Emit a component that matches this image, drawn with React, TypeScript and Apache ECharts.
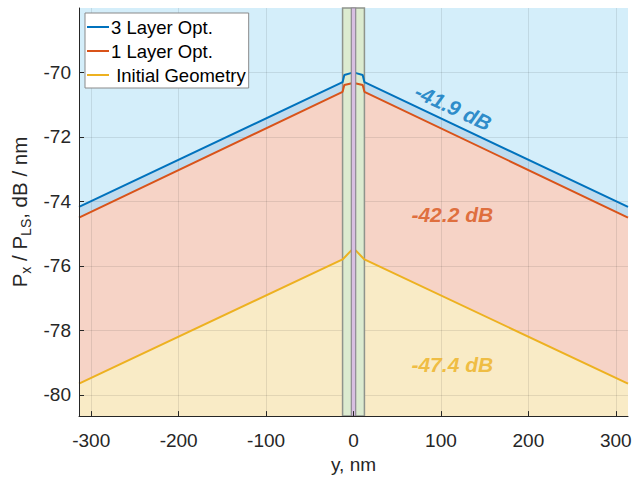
import React, { useEffect, useRef } from "react";
import * as echarts from "echarts";

// ---- data ----
const xTicks = [-300, -200, -100, 0, 100, 200, 300];
const yTicks = [-80, -78, -76, -74, -72, -70];

const threeLayerX = [-314, -12.5, -10.5, -3, 3, 10.5, 12.5, 314];
const threeLayerY = [-74.17, -70.3, -70.08, -70.02, -70.02, -70.08, -70.3, -74.17];

const oneLayerX = [-314, -12.5, -10.5, -3, 3, 10.5, 12.5, 314];
const oneLayerY = [-74.5, -70.6, -70.39, -70.34, -70.34, -70.39, -70.6, -74.5];

const initialX = [-314, -12.5, -2.5, 2.5, 12.5, 314];
const initialY = [-79.65, -75.8, -75.52, -75.52, -75.8, -79.65];

const coreBand = [-12.5, 12.5];
const innerBand = [-2.5, 2.5];

const seriesNames = ["3 Layer Opt.", "1 Layer Opt.", " Initial Geometry"];
const annotationTexts = ["-41.9 dB", "-42.2 dB", "-47.4 dB"];
const annotationX = [114, 113, 113];
const annotationY = [-71.08, -74.42, -79.06];
const annotationRotate = [-25, 0, 0];

const X_MIN = -314;
const X_MAX = 314;
const Y_MIN = -80.66;
const Y_MAX = -68;

const COLORS = ["#0072BD", "#D95319", "#EDB120"];
const FILLS = ["#bfdcef", "#f6d3c6", "#f9ebc6"];
const FONT = "'Liberation Sans', Arial, sans-serif";

const pairs = (xs: number[], ys: number[]) => xs.map((x, i) => [x, ys[i]]);

export default function App() {
  const ref = useRef<HTMLDivElement>(null);
  useEffect(() => {
    if (!ref.current) return;
    document.body.style.margin = "0";
    const chart = echarts.init(ref.current, undefined, { renderer: "svg" });
    const curves = [
      pairs(threeLayerX, threeLayerY),
      pairs(oneLayerX, oneLayerY),
      pairs(initialX, initialY),
    ];
    const fillSeries = curves.map((d, i) => ({
      type: "line",
      name: "fill" + i,
      data: d,
      symbol: "none",
      silent: true,
      z: 1 + i,
      lineStyle: { width: 0, opacity: 0 },
      areaStyle: { color: FILLS[i], opacity: 1, origin: "start" },
    }));
    const lineSeries = curves.map((d, i) => ({
      type: "line",
      name: seriesNames[i],
      data: d,
      symbol: "none",
      z: 6,
      color: COLORS[i],
      lineStyle: { width: 2, color: COLORS[i] },
    }));
    const band = (b: number[]) => [[{ xAxis: b[0], yAxis: Y_MAX }, { xAxis: b[1], yAxis: Y_MIN }]];
    const option: any = {
      animation: false,
      textStyle: { fontFamily: FONT },
      grid: {
        left: 79,
        right: 8,
        top: 8,
        bottom: 60,
        show: true,
        backgroundColor: "#d4eefa",
        borderWidth: 0,
      },
      legend: {
        data: seriesNames,
        orient: "vertical",
        left: 85,
        top: 13,
        backgroundColor: "#ffffff",
        borderColor: "#8a8a8a",
        borderWidth: 1,
        borderRadius: 0,
        padding: [4, 3, 3, 2],
        itemWidth: 22,
        itemHeight: 14,
        itemGap: 4,
        icon: "path://M0,6 L22,6 L22,8 L0,8 Z",
        textStyle: { fontSize: 18.5, lineHeight: 20, color: "#000", fontFamily: FONT, padding: [0, 0, 0, -3] },
        z: 20,
      },
      xAxis: {
        type: "value",
        min: X_MIN,
        max: X_MAX,
        z: 10,
        name: "y, nm",
        nameLocation: "middle",
        nameGap: 38,
        nameTextStyle: { fontSize: 19, color: "#262626", fontFamily: FONT },
        axisLine: { show: true, onZero: false, lineStyle: { color: "#262626", width: 1 } },
        axisTick: { show: true, inside: true, length: 5, customValues: xTicks, lineStyle: { color: "#262626" } },
        axisLabel: { customValues: xTicks, fontSize: 19, color: "#262626", margin: 15, fontFamily: FONT },
        splitLine: { show: false },
      },
      yAxis: {
        type: "value",
        min: Y_MIN,
        max: Y_MAX,
        z: 10,
        name: "{m|P}{s|x}{m| / P}{s|LS}{m|, dB / nm}",
        nameLocation: "middle",
        nameGap: 40,
        nameRotate: 90,
        nameTextStyle: {
          color: "#262626",
          fontFamily: FONT,
          rich: {
            m: { fontSize: 20.5, lineHeight: 27, color: "#262626", fontFamily: FONT },
            s: { fontSize: 14, lineHeight: 14, verticalAlign: "bottom", color: "#262626", fontFamily: FONT },
          },
        },
        axisLine: { show: true, onZero: false, lineStyle: { color: "#262626", width: 1 } },
        axisTick: { show: true, inside: true, length: 5, customValues: yTicks, lineStyle: { color: "#262626" } },
        axisLabel: { customValues: yTicks, fontSize: 19, color: "#262626", margin: 8, fontFamily: FONT },
        splitLine: { show: false },
      },
      series: [
        ...fillSeries,
        {
          type: "line",
          name: "grid",
          data: [],
          z: 4,
          silent: true,
          markLine: {
            silent: true,
            z: 4,
            symbol: ["none", "none"],
            label: { show: false },
            lineStyle: { color: "rgba(0,0,0,0.09)", width: 1, type: "solid" },
            data: [
              ...xTicks.map((v) => ({ xAxis: v })),
              ...yTicks.map((v) => ({ yAxis: v })),
            ],
          },
        },
        {
          type: "line",
          name: "core",
          data: [],
          z: 5,
          silent: true,
          markArea: {
            silent: true,
            z: 5,
            itemStyle: { color: "#dcebd0", borderColor: "#8f948c", borderWidth: 1.5 },
            data: band(coreBand),
          },
        },
        ...lineSeries,
        {
          type: "line",
          name: "inner",
          data: [],
          z: 7,
          silent: true,
          markArea: {
            silent: true,
            z: 7,
            itemStyle: { color: "#d8bfe2", borderColor: "#8f8a94", borderWidth: 1.2 },
            data: band(innerBand),
          },
        },
        ...annotationTexts.map((t, i) => ({
          type: "scatter",
          name: "ann" + i,
          data: [[annotationX[i], annotationY[i]]],
          symbolSize: 0,
          z: 8,
          silent: true,
          label: {
            show: true,
            position: "inside",
            formatter: t,
            rotate: annotationRotate[i],
            color: COLORS[i],
            fontSize: 21,
            fontWeight: "bold",
            fontStyle: "italic",
            fontFamily: FONT,
          },
        })),
      ],
    };
    chart.setOption(option);
    return () => chart.dispose();
  }, []);
  return <div ref={ref} style={{ width: 636, height: 479 }} />;
}
